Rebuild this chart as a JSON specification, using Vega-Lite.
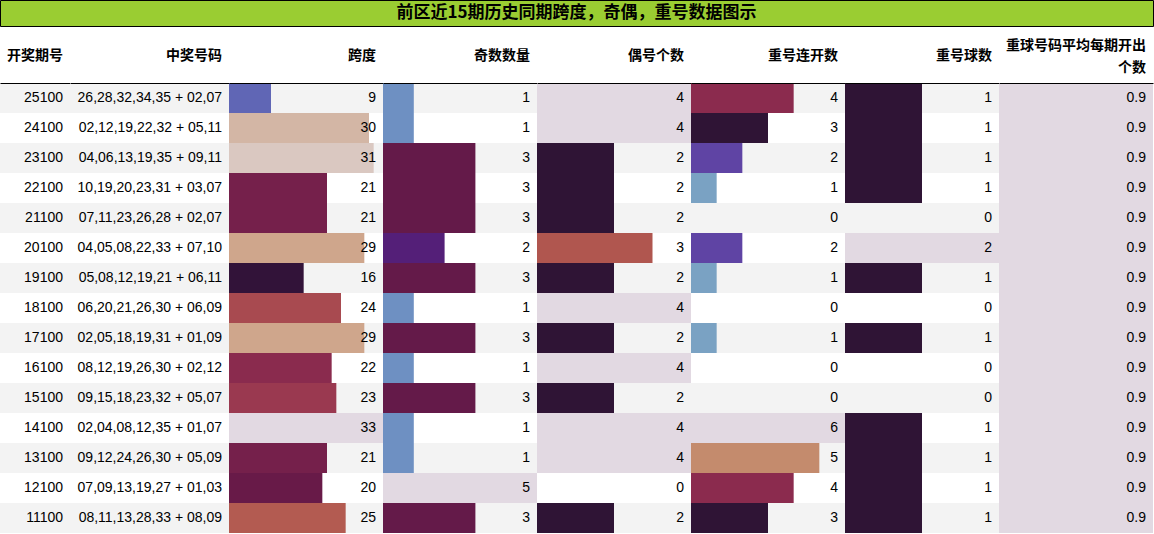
{
  "$schema": "https://vega.github.io/schema/vega-lite/v6.json",
  "padding": {"left": -1, "top": -1, "right": 0, "bottom": 0},
  "background": "white",
  "datasets": {
    "draws": [
      {"period": 25100, "numbers": "26,28,32,34,35 + 02,07", "span": 9, "odd": 1, "even": 4, "rep_run": 4, "rep_balls": 1, "avg": 0.9},
      {"period": 24100, "numbers": "02,12,19,22,32 + 05,11", "span": 30, "odd": 1, "even": 4, "rep_run": 3, "rep_balls": 1, "avg": 0.9},
      {"period": 23100, "numbers": "04,06,13,19,35 + 09,11", "span": 31, "odd": 3, "even": 2, "rep_run": 2, "rep_balls": 1, "avg": 0.9},
      {"period": 22100, "numbers": "10,19,20,23,31 + 03,07", "span": 21, "odd": 3, "even": 2, "rep_run": 1, "rep_balls": 1, "avg": 0.9},
      {"period": 21100, "numbers": "07,11,23,26,28 + 02,07", "span": 21, "odd": 3, "even": 2, "rep_run": 0, "rep_balls": 0, "avg": 0.9},
      {"period": 20100, "numbers": "04,05,08,22,33 + 07,10", "span": 29, "odd": 2, "even": 3, "rep_run": 2, "rep_balls": 2, "avg": 0.9},
      {"period": 19100, "numbers": "05,08,12,19,21 + 06,11", "span": 16, "odd": 3, "even": 2, "rep_run": 1, "rep_balls": 1, "avg": 0.9},
      {"period": 18100, "numbers": "06,20,21,26,30 + 06,09", "span": 24, "odd": 1, "even": 4, "rep_run": 0, "rep_balls": 0, "avg": 0.9},
      {"period": 17100, "numbers": "02,05,18,19,31 + 01,09", "span": 29, "odd": 3, "even": 2, "rep_run": 1, "rep_balls": 1, "avg": 0.9},
      {"period": 16100, "numbers": "08,12,19,26,30 + 02,12", "span": 22, "odd": 1, "even": 4, "rep_run": 0, "rep_balls": 0, "avg": 0.9},
      {"period": 15100, "numbers": "09,15,18,23,32 + 05,07", "span": 23, "odd": 3, "even": 2, "rep_run": 0, "rep_balls": 0, "avg": 0.9},
      {"period": 14100, "numbers": "02,04,08,12,35 + 01,07", "span": 33, "odd": 1, "even": 4, "rep_run": 6, "rep_balls": 1, "avg": 0.9},
      {"period": 13100, "numbers": "09,12,24,26,30 + 05,09", "span": 21, "odd": 1, "even": 4, "rep_run": 5, "rep_balls": 1, "avg": 0.9},
      {"period": 12100, "numbers": "07,09,13,19,27 + 01,03", "span": 20, "odd": 5, "even": 0, "rep_run": 4, "rep_balls": 1, "avg": 0.9},
      {"period": 11100, "numbers": "08,11,13,28,33 + 08,09", "span": 25, "odd": 3, "even": 2, "rep_run": 3, "rep_balls": 1, "avg": 0.9}
    ]
  },
  "vconcat": [
    {
      "width": 1153,
      "height": 26,
      "view": {"fill": "#9acd32", "stroke": "black", "strokeWidth": 1},
      "data": {"values": [{"t": "前区近15期历史同期跨度，奇偶，重号数据图示"}]},
      "mark": {"type": "text", "font": "Noto Sans CJK SC", "fontSize": 17, "fontWeight": "bold", "color": "black"},
      "encoding": {"text": {"field": "t", "type": "nominal"}}
    },
    {
      "data": {"name": "draws"},
      "transform": [
        {"window": [{"op": "row_number", "as": "rn"}], "sort": [{"field": "period", "order": "descending"}]}
      ],
      "bounds": "flush",
      "spacing": 0,
      "resolve": {"scale": {"color": "independent"}},
      "hconcat": [
        {
          "width": 70, "height": 450,
          "title": {"text": "开奖期号", "offset": 20},
          "encoding": {"y": {"field": "period", "type": "ordinal", "sort": "descending", "axis": null, "scale": {"paddingInner": 0, "paddingOuter": 0}}},
          "layer": [
            {"mark": "rect", "encoding": {"fill": {"condition": {"test": "datum.rn % 2 == 1", "value": "#f3f3f3"}, "value": "white"}}},
            {"mark": {"type": "text", "align": "right", "dx": -7},
             "encoding": {
               "x": {"datum": 1, "type": "quantitative", "scale": {"domain": [0, 1]}, "axis": {"orient": "top", "labels": false, "ticks": false, "grid": false, "domainColor": "black", "title": null, "zindex": 1}},
               "text": {"field": "period", "type": "nominal"}}}
          ]
        },
        {
          "width": 159, "height": 450,
          "title": {"text": "中奖号码", "offset": 20},
          "encoding": {"y": {"field": "period", "type": "ordinal", "sort": "descending", "axis": null, "scale": {"paddingInner": 0, "paddingOuter": 0}}},
          "layer": [
            {"mark": "rect", "encoding": {"fill": {"condition": {"test": "datum.rn % 2 == 1", "value": "#f3f3f3"}, "value": "white"}}},
            {"mark": {"type": "text", "align": "right", "dx": -7},
             "encoding": {
               "x": {"datum": 1, "type": "quantitative", "scale": {"domain": [0, 1]}, "axis": {"orient": "top", "labels": false, "ticks": false, "grid": false, "domainColor": "black", "title": null, "zindex": 1}},
               "text": {"field": "numbers", "type": "nominal"}}}
          ]
        },
        {
          "width": 154, "height": 450,
          "title": {"text": "跨度", "offset": 20},
          "encoding": {"y": {"field": "period", "type": "ordinal", "sort": "descending", "axis": null, "scale": {"paddingInner": 0, "paddingOuter": 0}}},
          "layer": [
            {"mark": "rect", "encoding": {"fill": {"condition": {"test": "datum.rn % 2 == 1", "value": "#f3f3f3"}, "value": "white"}}},
            {"mark": "bar",
             "encoding": {
               "x": {"field": "span", "type": "quantitative", "scale": {"domain": [0, 33], "nice": false}, "axis": {"orient": "top", "labels": false, "ticks": false, "grid": false, "domainColor": "black", "title": null, "zindex": 1}},
               "color": {"field": "span", "type": "quantitative", "legend": null,
                 "scale": {"domain": [0, 9, 16, 20, 21, 22, 23, 24, 25, 29, 30, 31, 33],
                           "range": ["#e2d9e2", "#6066b5", "#321339", "#681a48", "#75204b", "#8a2b4e", "#9a3950", "#a84a50", "#b35b51", "#cfa68c", "#d3b6a5", "#dac8c1", "#e2d9e2"]}}}},
            {"mark": {"type": "text", "align": "right", "dx": -7},
             "encoding": {"x": {"datum": 33, "type": "quantitative"}, "text": {"field": "span", "type": "nominal"}}}
          ]
        },
        {
          "width": 154, "height": 450,
          "title": {"text": "奇数数量", "offset": 20},
          "encoding": {"y": {"field": "period", "type": "ordinal", "sort": "descending", "axis": null, "scale": {"paddingInner": 0, "paddingOuter": 0}}},
          "layer": [
            {"mark": "rect", "encoding": {"fill": {"condition": {"test": "datum.rn % 2 == 1", "value": "#f3f3f3"}, "value": "white"}}},
            {"mark": "bar",
             "encoding": {
               "x": {"field": "odd", "type": "quantitative", "scale": {"domain": [0, 5], "nice": false}, "axis": {"orient": "top", "labels": false, "ticks": false, "grid": false, "domainColor": "black", "title": null, "zindex": 1}},
               "color": {"field": "odd", "type": "quantitative", "legend": null,
                 "scale": {"domain": [0, 1, 2, 3, 5], "range": ["#e2d9e2", "#6e90c2", "#541f78", "#641a49", "#e2d9e2"]}}}},
            {"mark": {"type": "text", "align": "right", "dx": -7},
             "encoding": {"x": {"datum": 5, "type": "quantitative"}, "text": {"field": "odd", "type": "nominal"}}}
          ]
        },
        {
          "width": 154, "height": 450,
          "title": {"text": "偶号个数", "offset": 20},
          "encoding": {"y": {"field": "period", "type": "ordinal", "sort": "descending", "axis": null, "scale": {"paddingInner": 0, "paddingOuter": 0}}},
          "layer": [
            {"mark": "rect", "encoding": {"fill": {"condition": {"test": "datum.rn % 2 == 1", "value": "#f3f3f3"}, "value": "white"}}},
            {"mark": "bar",
             "encoding": {
               "x": {"field": "even", "type": "quantitative", "scale": {"domain": [0, 4], "nice": false}, "axis": {"orient": "top", "labels": false, "ticks": false, "grid": false, "domainColor": "black", "title": null, "zindex": 1}},
               "color": {"field": "even", "type": "quantitative", "legend": null,
                 "scale": {"domain": [0, 2, 3, 4], "range": ["#e2d9e2", "#2f1435", "#b0564f", "#e2d9e2"]}}}},
            {"mark": {"type": "text", "align": "right", "dx": -7},
             "encoding": {"x": {"datum": 4, "type": "quantitative"}, "text": {"field": "even", "type": "nominal"}}}
          ]
        },
        {
          "width": 154, "height": 450,
          "title": {"text": "重号连开数", "offset": 20},
          "encoding": {"y": {"field": "period", "type": "ordinal", "sort": "descending", "axis": null, "scale": {"paddingInner": 0, "paddingOuter": 0}}},
          "layer": [
            {"mark": "rect", "encoding": {"fill": {"condition": {"test": "datum.rn % 2 == 1", "value": "#f3f3f3"}, "value": "white"}}},
            {"mark": "bar",
             "encoding": {
               "x": {"field": "rep_run", "type": "quantitative", "scale": {"domain": [0, 6], "nice": false}, "axis": {"orient": "top", "labels": false, "ticks": false, "grid": false, "domainColor": "black", "title": null, "zindex": 1}},
               "color": {"field": "rep_run", "type": "quantitative", "legend": null,
                 "scale": {"domain": [0, 1, 2, 3, 4, 5, 6], "range": ["#e2d9e2", "#7aa2c3", "#5f44a4", "#2f1435", "#8b2b4e", "#c48b6d", "#e2d9e2"]}}}},
            {"mark": {"type": "text", "align": "right", "dx": -7},
             "encoding": {"x": {"datum": 6, "type": "quantitative"}, "text": {"field": "rep_run", "type": "nominal"}}}
          ]
        },
        {
          "width": 154, "height": 450,
          "title": {"text": "重号球数", "offset": 20},
          "encoding": {"y": {"field": "period", "type": "ordinal", "sort": "descending", "axis": null, "scale": {"paddingInner": 0, "paddingOuter": 0}}},
          "layer": [
            {"mark": "rect", "encoding": {"fill": {"condition": {"test": "datum.rn % 2 == 1", "value": "#f3f3f3"}, "value": "white"}}},
            {"mark": "bar",
             "encoding": {
               "x": {"field": "rep_balls", "type": "quantitative", "scale": {"domain": [0, 2], "nice": false}, "axis": {"orient": "top", "labels": false, "ticks": false, "grid": false, "domainColor": "black", "title": null, "zindex": 1}},
               "color": {"field": "rep_balls", "type": "quantitative", "legend": null,
                 "scale": {"domain": [0, 1, 2], "range": ["#e2d9e2", "#2f1435", "#e2d9e2"]}}}},
            {"mark": {"type": "text", "align": "right", "dx": -7},
             "encoding": {"x": {"datum": 2, "type": "quantitative"}, "text": {"field": "rep_balls", "type": "nominal"}}}
          ]
        },
        {
          "width": 154, "height": 450,
          "title": {"text": ["重球号码平均每期开出", "个数"], "offset": 8, "lineHeight": 22},
          "encoding": {"y": {"field": "period", "type": "ordinal", "sort": "descending", "axis": null, "scale": {"paddingInner": 0, "paddingOuter": 0}}},
          "layer": [
            {"mark": "rect", "encoding": {"fill": {"condition": {"test": "datum.rn % 2 == 1", "value": "#f3f3f3"}, "value": "white"}}},
            {"mark": "bar",
             "encoding": {
               "x": {"field": "avg", "type": "quantitative", "scale": {"domain": [0, 0.9], "nice": false}, "axis": {"orient": "top", "labels": false, "ticks": false, "grid": false, "domainColor": "black", "title": null, "zindex": 1}},
               "color": {"field": "avg", "type": "quantitative", "legend": null,
                 "scale": {"domain": [0, 0.9], "range": ["#e2d9e2", "#e2d9e2"]}}}},
            {"mark": {"type": "text", "align": "right", "dx": -7},
             "encoding": {"x": {"datum": 0.9, "type": "quantitative"}, "text": {"field": "avg", "type": "nominal"}}}
          ]
        }
      ]
    }
  ],
  "bounds": "flush",
  "spacing": 57,
  "config": {
    "view": {"stroke": null},
    "font": "Liberation Sans",
    "text": {"fontSize": 14, "color": "black"},
    "title": {"font": "Noto Sans CJK SC", "fontSize": 14, "fontWeight": "bold", "color": "black", "anchor": "end", "frame": "group", "dx": -7}
  }
}
